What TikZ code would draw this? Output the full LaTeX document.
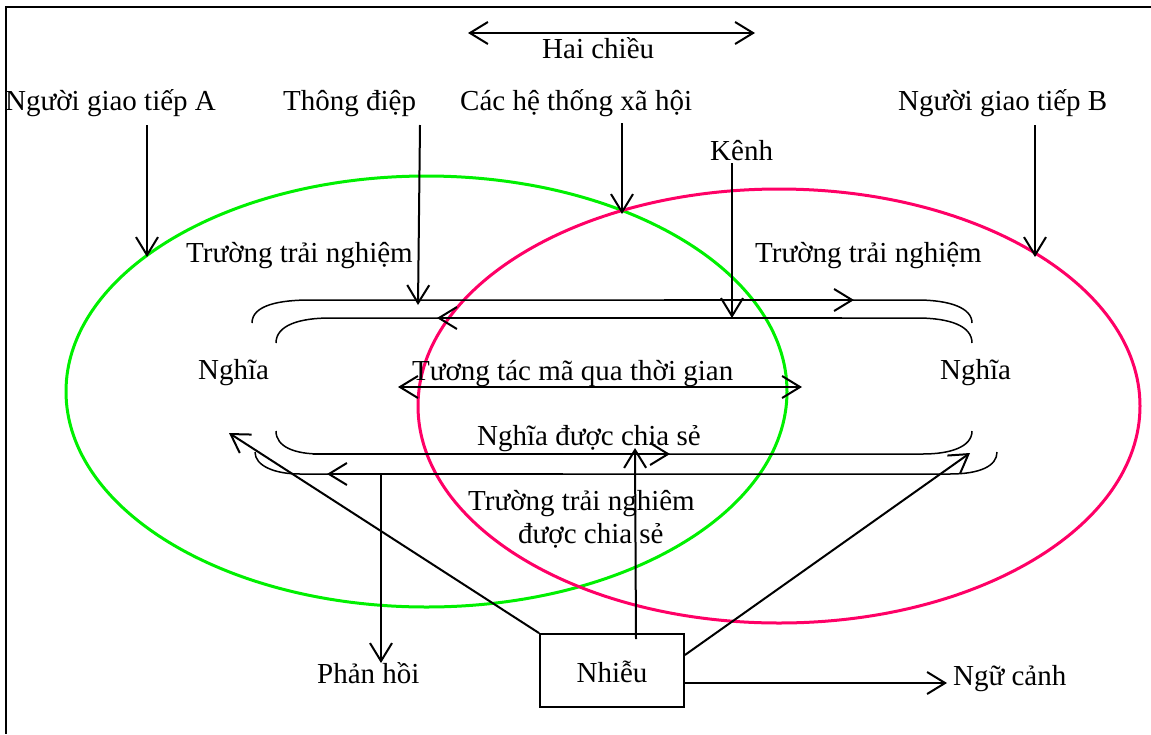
\documentclass[tikz,border=0pt]{standalone}
\usepackage{fontspec}
\setmainfont{Liberation Serif}
\usetikzlibrary{arrows.meta,calc}
\definecolor{grn}{RGB}{0,240,0}
\definecolor{rdp}{RGB}{255,0,102}
\begin{document}
\begin{tikzpicture}[x=1pt,y=-1pt,
  lbl/.style={anchor=base west, inner sep=0pt, font=\fontsize{29}{34}\selectfont},
  bracketline/.style={line width=1.5pt},
  harr/.style={line width=2pt, -{Straight Barb[length=18pt,width=22pt]}},
  dharr/.style={line width=2pt, {Straight Barb[length=18pt,width=22pt]}-{Straight Barb[length=18pt,width=22pt]}},
  ell/.style={line width=3pt}]
\useasboundingbox (0,0) rectangle (1151,734);
% frame
\draw[line width=2pt] (1151,7) -- (6,7) -- (6,734);

% ellipses
\draw[ell, grn] (426.5,391.5) ellipse (360.5 and 215.5);
\draw[ell, rdp] (779,406) ellipse (361 and 217);

% labels
\node[lbl] (hai) at (542,58) {Hai chiều};
\node[lbl] (nA) at (5,110) {Người giao tiếp A};
\node[lbl] (msg) at (283,110) {Thông điệp};
\node[lbl] (soc) at (460,110) {Các hệ thống xã hội};
\node[lbl] (nB) at (898,110) {Người giao tiếp B};
\node[lbl] (kenh) at (710,160) {Kênh};
\node[lbl] (fexL) at (186,262) {Trường trải nghiệm};
\node[lbl] (fexR) at (755,262) {Trường trải nghiệm};
\node[lbl] (ngL) at (198,379) {Nghĩa};
\node[lbl] (ngR) at (940,379) {Nghĩa};
\node[lbl] (code) at (412,380) {Tương tác mã qua thời gian};
\node[lbl] (shm) at (477,445) {Nghĩa được chia sẻ};
\node[lbl] (shf1) at (468,510) {Trường trải nghiêm};
\node[lbl] (shf2) at (518,543) {được chia sẻ};
\node[lbl] (fb) at (317,683) {Phản hồi};
\node[lbl] (ctx) at (953,685) {Ngữ cảnh};
\node[draw, line width=1.8pt, minimum width=144pt, minimum height=73pt, inner sep=0pt,
      text height=24pt, text depth=0pt,
      font=\fontsize{29}{34}\selectfont] (noise) at (612,670.5) {Nhiễu};

% coordinates
\coordinate (hai1) at (468,33);
\coordinate (hai2) at (755,33);
\coordinate (aTop) at (147,125);
\coordinate (aTip) at (147,257);
\coordinate (mTop) at (420,125);
\coordinate (mTip) at (418,305);
\coordinate (sTop) at (622,123);
\coordinate (sTip) at (622,214);
\coordinate (kTop) at (732,163);
\coordinate (kTip) at (732,318);
\coordinate (bTop) at (1035,125);
\coordinate (bTip) at (1035,257);
\coordinate (u1) at (664,300);
\coordinate (u2) at (854,300);
\coordinate (i1) at (842,318);
\coordinate (i2) at (437,318);
\coordinate (c1) at (398,387);
\coordinate (c2) at (802,387);
\coordinate (l1) at (313,454);
\coordinate (l2) at (670,454);
\coordinate (o1) at (563,474);
\coordinate (o2) at (327,474);
\coordinate (fbTop) at (381,474);
\coordinate (fbTip) at (381,663);
\coordinate (nUp) at (635,448);
\coordinate (nL) at (229,433);
\coordinate (nR) at (970,453);
\coordinate (ctxTip) at (947,683);

% brackets
\draw[bracketline] (252,323) .. controls (252,305) and (280,300) .. (310,300) -- (917,300)
   .. controls (950,300) and (972,308) .. (972,323);
\draw[bracketline] (276,343) .. controls (276,325) and (300,318) .. (330,318) -- (917,318)
   .. controls (950,318) and (972,326) .. (972,343);
\draw[bracketline] (276,431) .. controls (276,447) and (295,454) .. (320,454) -- (923,454)
   .. controls (950,454) and (972,447) .. (972,431);
\draw[bracketline] (255,452) .. controls (255,466) and (275,474) .. (300,474) -- (950,474)
   .. controls (980,474) and (997,466) .. (997,452);

% arrows
\draw[dharr] (hai1) -- (hai2);
\draw[harr] (aTop) -- (aTip);
\draw[harr] (mTop) -- (mTip);
\draw[harr] (sTop) -- (sTip);
\draw[harr] (kTop) -- (kTip);
\draw[harr] (bTop) -- (bTip);
\draw[harr] (u1) -- (u2);
\draw[harr] (i1) -- (i2);
\draw[dharr] (c1) -- (c2);
\draw[harr] (l1) -- (l2);
\draw[harr] (o1) -- (o2);
\draw[harr] (fbTop) -- (fbTip);
\draw[harr] ([xshift=24pt,yshift=-6pt]noise.north) -- (nUp);
\draw[harr] (noise.north west) -- (nL);
\draw[harr] ([yshift=15.5pt]noise.east) -- (nR);
\draw[harr] ([yshift=-12.5pt]noise.east) -- (ctxTip);
\end{tikzpicture}
\end{document}
